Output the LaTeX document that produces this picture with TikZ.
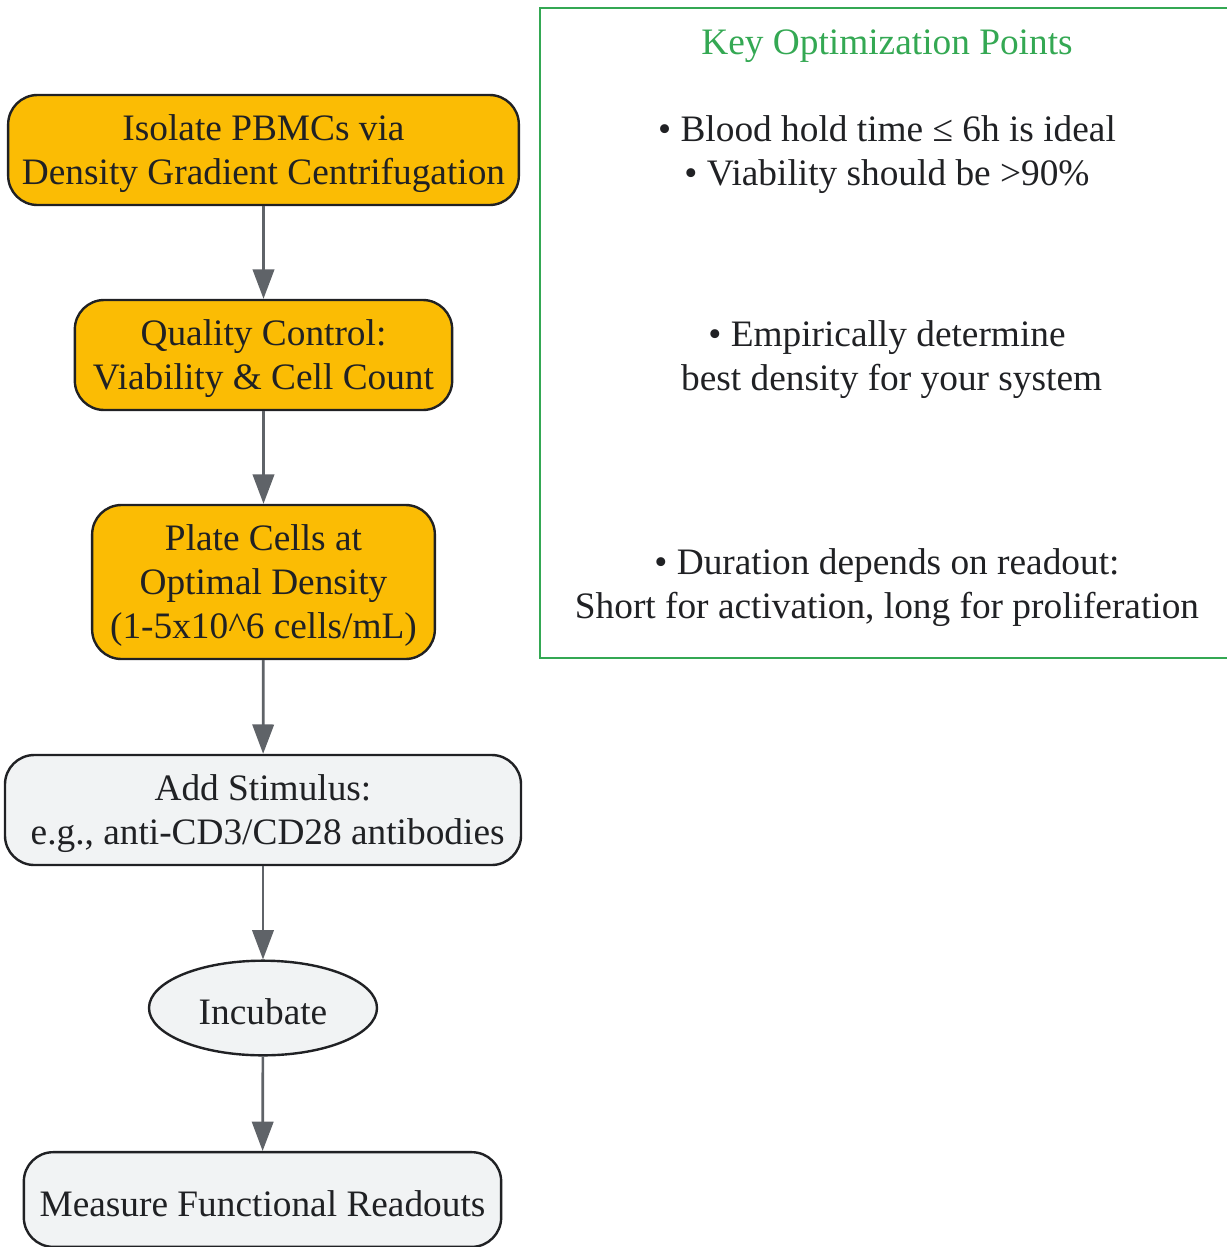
\documentclass[tikz,border=0pt]{standalone}
\usepackage{fontspec}
\setmainfont{Liberation Serif}
\usetikzlibrary{shapes.geometric,arrows.meta}
\definecolor{stepyellow}{HTML}{FBBC04}
\definecolor{stepgray}{HTML}{F1F3F4}
\definecolor{noteborder}{HTML}{34A853}
\definecolor{arrowgray}{HTML}{5F6368}
\definecolor{inkdark}{HTML}{202124}
\newcommand{\firstline}{\rule{0pt}{25pt}}
\begin{document}
\begin{tikzpicture}
      [
      x=0.75pt, y=-0.75pt,
      every node/.style={font=\fontsize{28}{33}\selectfont, text=inkdark, align=center},
      stage/.style={rectangle,rounded corners=22pt,draw=inkdark,line width=1.8pt,inner sep=0pt},
      prep/.style={stage,fill=stepyellow},
      assay/.style={stage,fill=stepgray},
      flow/.style={-{Triangle[length=22pt,width=16pt]},draw=arrowgray,line width=2pt}
      ]
      \useasboundingbox (0,0) rectangle (1227,1247);
      % note box
      \begin{scope}
        \clip (0,0) rectangle (1227,1247);
        \draw [noteborder, line width=1.8pt] (540,8) rectangle (1234,658);
      \end{scope}
      \node (title) at (887,42) [text=noteborder] {\firstline Key Optimization Points};
      \node (noteA) at (887,151) {\firstline• Blood hold time ≤ 6h is ideal\\• Viability should be >90\%};
      \node (noteB) at (887,356) {\firstline• Empirically determine\\\hspace*{7pt}best density for your system};
      \node (noteC) at (887,584) {\firstline• Duration depends on readout:\\Short for activation, long for proliferation};
      % workflow
      \node (isolate) at (263.5,150) [prep, minimum width=383pt, minimum height=82.5pt] {\firstline Isolate PBMCs via\\Density Gradient Centrifugation};
      \node (qc) at (263.5,355) [prep, minimum width=283pt, minimum height=82.5pt] {\firstline Quality Control:\\Viability \& Cell Count};
      \node (plate) at (263.5,582) [prep, minimum width=257pt, minimum height=115.5pt] {\firstline Plate Cells at\\Optimal Density\\(1-5x10\textasciicircum 6 cells/mL)};
      \node (stim) at (263,810) [assay, minimum width=387pt, minimum height=82.5pt] {\firstline Add Stimulus:\\\hspace*{7pt}e.g., anti-CD3/CD28 antibodies};
      \node (incubate) at (263,1008) [ellipse, draw=inkdark, line width=1.8pt, fill=stepgray, inner sep=0pt, minimum width=171pt, minimum height=71pt] {\firstline Incubate};
      \node (measure) at (262.5,1199.5) [assay, minimum width=358pt, minimum height=71pt] {\firstline Measure Functional Readouts};
      \draw [flow] (isolate) to (qc);
      \draw [flow] (qc) to (plate);
      \draw [flow] (plate) to (stim);
      \draw [flow] (stim) to (incubate);
      \draw [flow] (incubate) to (measure);
    \end{tikzpicture}
\end{document}
